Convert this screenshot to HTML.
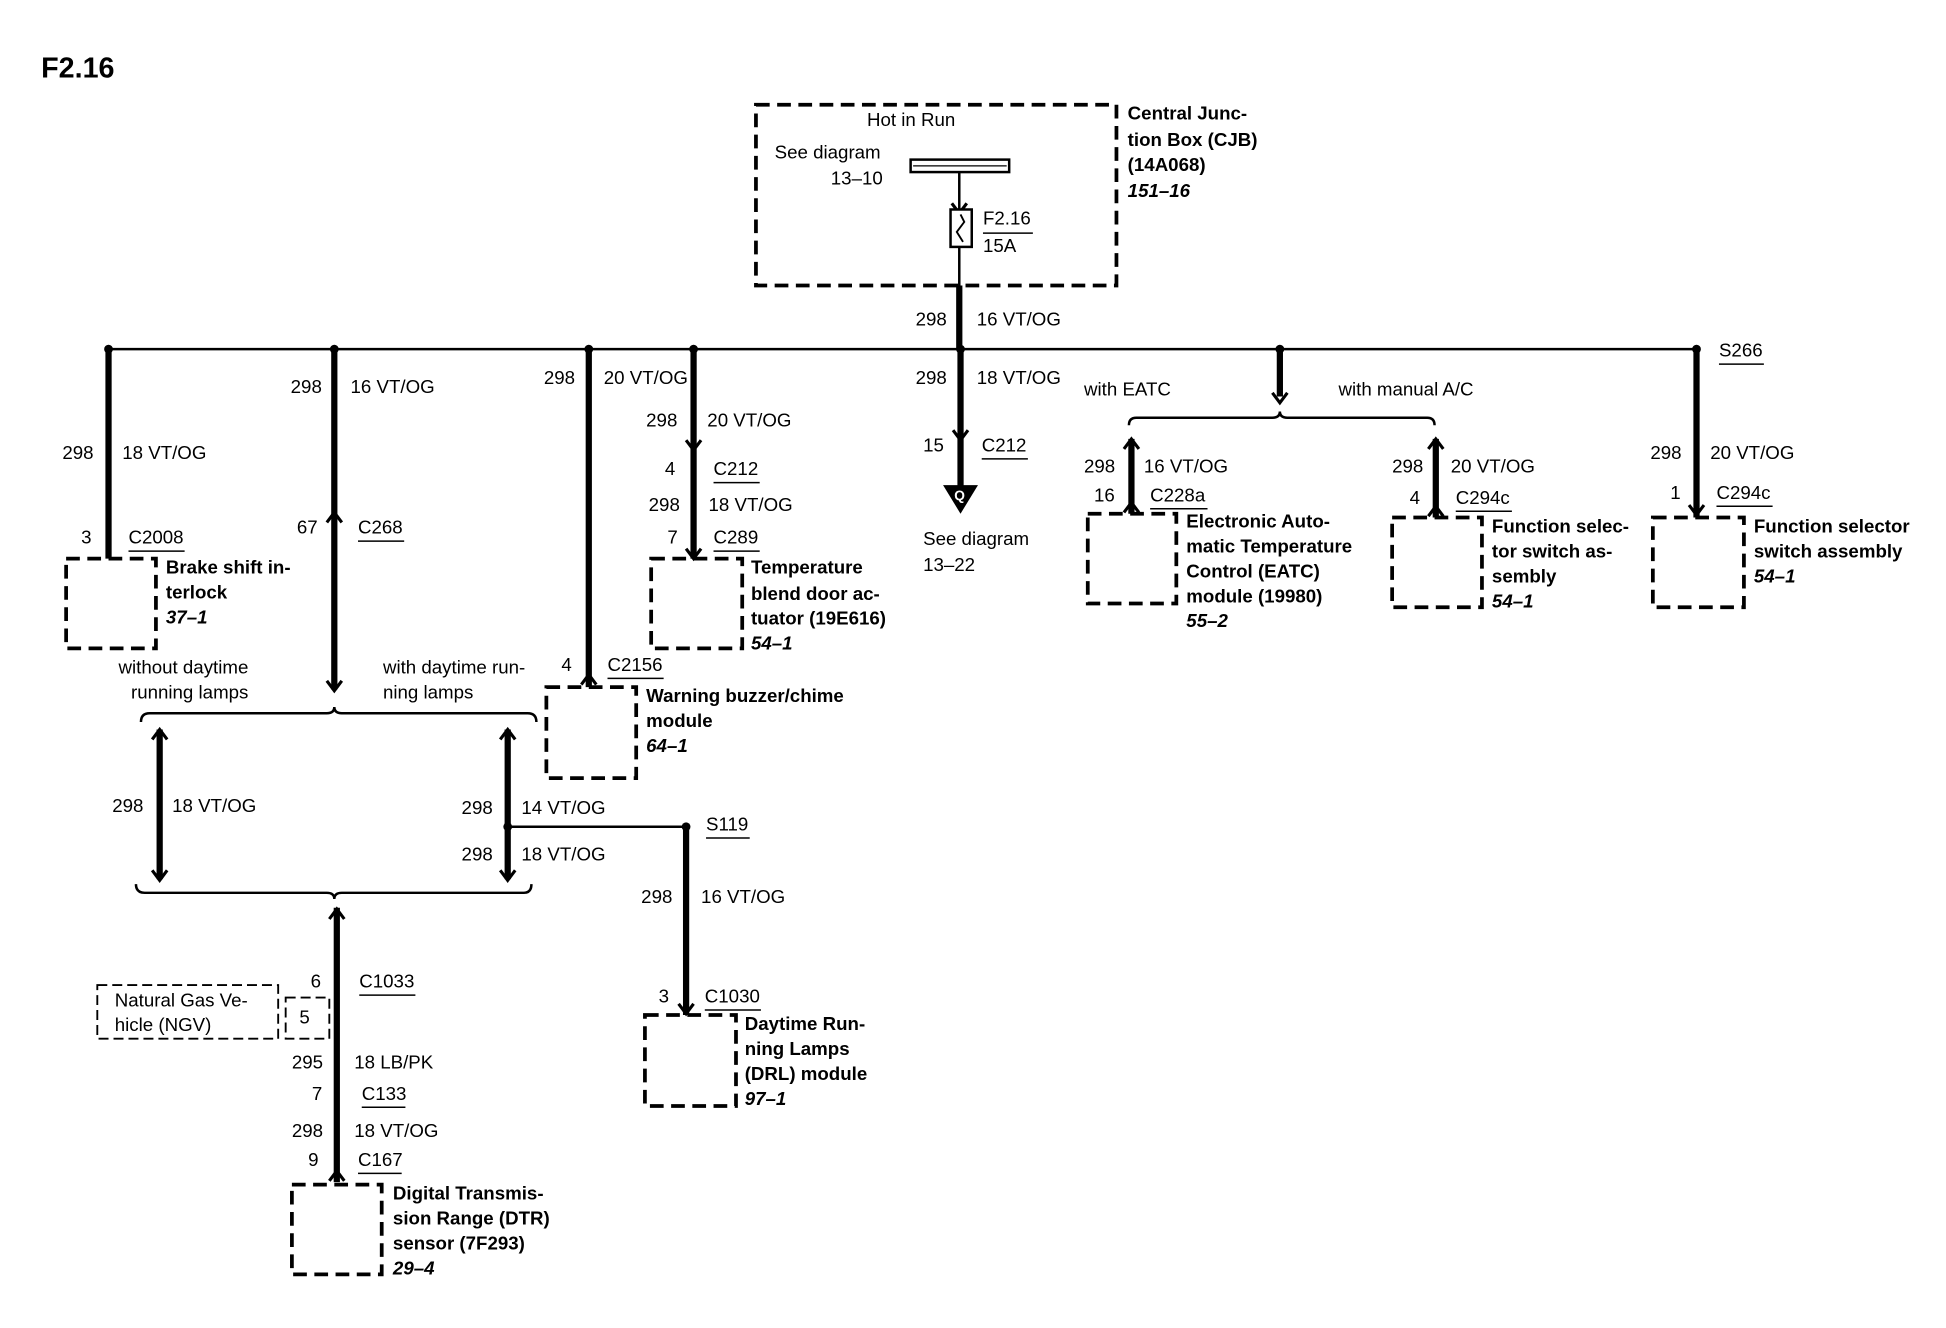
<!DOCTYPE html>
<html><head><meta charset="utf-8"><style>
html,body{margin:0;padding:0;background:#fff;}
svg{display:block}
text{font-family:"Liberation Sans",sans-serif;font-size:15px;fill:#000}
.b{font-weight:bold}
.i{font-weight:bold;font-style:italic}
.w{stroke:#000;stroke-width:5;fill:none}
.t{stroke:#000;stroke-width:2;fill:none}
.d{stroke:#000;stroke-width:3;fill:none;stroke-dasharray:11,6}
.dt{stroke:#000;stroke-width:1.5;fill:none;stroke-dasharray:8,4}
.u{stroke:#000;stroke-width:1.2}
</style></head><body>
<svg width="1946" height="1328" viewBox="0 0 1560 1065" preserveAspectRatio="none" xmlns="http://www.w3.org/2000/svg">
<defs>
<path id="dn" d="M-6,-7 L0,1 L6,-7" stroke="#000" stroke-width="2.5" fill="none"/>
<path id="up" d="M-6,7 L0,-1 L6,7" stroke="#000" stroke-width="2.5" fill="none"/>
</defs>
<text x="33" y="62" class="b" style="font-size:23px">F2.16</text>

<!-- CJB -->
<rect x="606" y="84" width="289" height="145" class="d"/>
<text x="695" y="101">Hot in Run</text>
<text x="621" y="127">See diagram</text>
<text x="666" y="148">13–10</text>
<rect x="730" y="128" width="79" height="10" fill="#fff" stroke="#000" stroke-width="2"/>
<line x1="732" y1="133" x2="807" y2="133" stroke="#000" stroke-width="1"/>
<line x1="769" y1="138" x2="769" y2="168" class="t"/>
<use href="#dn" x="769" y="170"/>
<rect x="762" y="168" width="17" height="30" fill="#fff" stroke="#000" stroke-width="2"/>
<path d="M770,172 L773,178 L767,186 L772,194" stroke="#000" stroke-width="1.5" fill="none"/>
<text x="788" y="180">F2.16</text><line x1="788" y1="187" x2="828" y2="187" class="u"/>
<text x="788" y="202">15A</text>
<line x1="769" y1="198" x2="769" y2="229" class="t"/>
<line x1="769" y1="229" x2="769" y2="280" class="w"/>
<text x="734" y="261">298</text><text x="783" y="261">16 VT/OG</text>
<text x="904" y="96" class="b">Central Junc-</text>
<text x="904" y="117" class="b">tion Box (CJB)</text>
<text x="904" y="137" class="b">(14A068)</text>
<text x="904" y="158" class="i">151–16</text>

<!-- bus -->
<line x1="87" y1="280" x2="1360" y2="280" class="t"/>
<g fill="#000"><circle cx="87" cy="280" r="3.5"/><circle cx="268" cy="280" r="3.5"/><circle cx="472" cy="280" r="3.5"/><circle cx="556" cy="280" r="3.5"/><circle cx="770" cy="280" r="3.5"/><circle cx="1026" cy="280" r="3.5"/><circle cx="1360" cy="280" r="3.5"/></g>
<text x="1378" y="286">S266</text><line x1="1378" y1="292" x2="1414" y2="292" class="u"/>

<!-- branch 1 -->
<line x1="87" y1="280" x2="87" y2="448" class="w"/>
<text x="50" y="368">298</text><text x="98" y="368">18 VT/OG</text>
<text x="65" y="436">3</text><text x="103" y="436">C2008</text><line x1="103" y1="442" x2="148" y2="442" class="u"/>
<rect x="53" y="448" width="72" height="72" class="d"/>
<text x="133" y="460" class="b">Brake shift in-</text>
<text x="133" y="480" class="b">terlock</text>
<text x="133" y="500" class="i">37–1</text>

<!-- branch 2 -->
<line x1="268" y1="280" x2="268" y2="553" class="w"/>
<use href="#up" x="268" y="412"/><use href="#dn" x="268" y="553"/>
<text x="233" y="315">298</text><text x="281" y="315">16 VT/OG</text>
<text x="238" y="428">67</text><text x="287" y="428">C268</text><line x1="287" y1="434" x2="324" y2="434" class="u"/>
<text x="95" y="540">without daytime</text><text x="105" y="560">running lamps</text>
<text x="307" y="540">with daytime run-</text><text x="307" y="560">ning lamps</text>
<path d="M113,579 Q113,572 120,572 L262,572 Q268,572 268,567 Q268,572 274,572 L423,572 Q430,572 430,579" class="t" stroke-width="3"/>
<line x1="128" y1="585" x2="128" y2="705" class="w"/><use href="#up" x="128" y="586"/><use href="#dn" x="128" y="705"/>
<text x="90" y="651">298</text><text x="138" y="651">18 VT/OG</text>
<line x1="407" y1="585" x2="407" y2="705" class="w"/><use href="#up" x="407" y="586"/><use href="#dn" x="407" y="705"/>
<text x="370" y="653">298</text><text x="418" y="653">14 VT/OG</text>
<text x="370" y="690">298</text><text x="418" y="690">18 VT/OG</text>
<line x1="407" y1="663" x2="550" y2="663" class="t"/>
<circle cx="407" cy="663" r="3.5"/><circle cx="550" cy="663" r="3.5"/>
<text x="566" y="666">S119</text><line x1="566" y1="672" x2="601" y2="672" class="u"/>
<path d="M109,709 Q109,716 116,716 L262,716 Q268,716 268,721 Q268,716 274,716 L420,716 Q426,716 426,709" class="t" stroke-width="3"/>
<line x1="270" y1="728" x2="270" y2="948" class="w"/><use href="#up" x="270" y="730"/><use href="#up" x="270" y="940"/>
<text x="249" y="792">6</text><text x="288" y="792">C1033</text><line x1="288" y1="798" x2="333" y2="798" class="u"/>
<rect x="78" y="790" width="145" height="43" class="dt"/>
<text x="92" y="807">Natural Gas Ve-</text><text x="92" y="827">hicle (NGV)</text>
<rect x="229" y="800" width="35" height="33" class="dt"/><text x="240" y="821">5</text>
<text x="234" y="857">295</text><text x="284" y="857">18 LB/PK</text>
<text x="250" y="882">7</text><text x="290" y="882">C133</text><line x1="290" y1="888" x2="325" y2="888" class="u"/>
<text x="234" y="912">298</text><text x="284" y="912">18 VT/OG</text>
<text x="247" y="935">9</text><text x="287" y="935">C167</text><line x1="287" y1="941" x2="322" y2="941" class="u"/>
<rect x="234" y="950" width="72" height="72" class="d"/>
<text x="315" y="962" class="b">Digital Transmis-</text>
<text x="315" y="982" class="b">sion Range (DTR)</text>
<text x="315" y="1002" class="b">sensor (7F293)</text>
<text x="315" y="1022" class="i">29–4</text>
<line x1="550" y1="663" x2="550" y2="814" class="w"/><use href="#dn" x="550" y="812"/>
<text x="514" y="724">298</text><text x="562" y="724">16 VT/OG</text>
<text x="528" y="804">3</text><text x="565" y="804">C1030</text><line x1="565" y1="810" x2="610" y2="810" class="u"/>
<rect x="517" y="814" width="73" height="73" class="d"/>
<text x="597" y="826" class="b">Daytime Run-</text><text x="597" y="846" class="b">ning Lamps</text>
<text x="597" y="866" class="b">(DRL) module</text><text x="597" y="886" class="i">97–1</text>

<!-- branch 3 -->
<line x1="472" y1="280" x2="472" y2="551" class="w"/><use href="#up" x="472" y="542"/>
<text x="436" y="308">298</text><text x="484" y="308">20 VT/OG</text>
<text x="450" y="538">4</text><text x="487" y="538">C2156</text><line x1="487" y1="544" x2="532" y2="544" class="u"/>
<rect x="438" y="551" width="72" height="73" class="d"/>
<text x="518" y="563" class="b">Warning buzzer/chime</text><text x="518" y="583" class="b">module</text><text x="518" y="603" class="i">64–1</text>

<!-- branch 4 -->
<line x1="556" y1="280" x2="556" y2="448" class="w"/><use href="#dn" x="556" y="360"/><use href="#dn" x="556" y="447"/>
<text x="518" y="342">298</text><text x="567" y="342">20 VT/OG</text>
<text x="533" y="381">4</text><text x="572" y="381">C212</text><line x1="572" y1="387" x2="609" y2="387" class="u"/>
<text x="520" y="410">298</text><text x="568" y="410">18 VT/OG</text>
<text x="535" y="436">7</text><text x="572" y="436">C289</text><line x1="572" y1="442" x2="609" y2="442" class="u"/>
<rect x="522" y="448" width="73" height="72" class="d"/>
<text x="602" y="460" class="b">Temperature</text><text x="602" y="481" class="b">blend door ac-</text>
<text x="602" y="501" class="b">tuator (19E616)</text><text x="602" y="521" class="i">54–1</text>

<!-- branch 5 -->
<line x1="770" y1="280" x2="770" y2="390" class="w"/><use href="#dn" x="770" y="352"/>
<text x="734" y="308">298</text><text x="783" y="308">18 VT/OG</text>
<text x="740" y="362">15</text><text x="787" y="362">C212</text><line x1="787" y1="368" x2="824" y2="368" class="u"/>
<path d="M756,389 L784,389 L770,412 Z" fill="#000"/>
<text x="765" y="401" style="font-size:11px;fill:#fff" class="b">Q</text>
<text x="740" y="437">See diagram</text><text x="740" y="458">13–22</text>

<!-- branch 6 -->
<line x1="1026" y1="280" x2="1026" y2="318" class="w"/><use href="#dn" x="1026" y="322"/>
<text x="869" y="317">with EATC</text><text x="1073" y="317">with manual A/C</text>
<path d="M905,341 Q905,335 911,335 L1020,335 Q1026,335 1026,330 Q1026,335 1032,335 L1144,335 Q1150,335 1150,341" class="t" stroke-width="3"/>
<line x1="907" y1="352" x2="907" y2="412" class="w"/><use href="#up" x="907" y="353"/><use href="#up" x="907" y="404"/>
<text x="869" y="379">298</text><text x="917" y="379">16 VT/OG</text>
<text x="877" y="402">16</text><text x="922" y="402">C228a</text><line x1="922" y1="408" x2="968" y2="408" class="u"/>
<rect x="872" y="412" width="71" height="72" class="d"/>
<text x="951" y="423" class="b">Electronic Auto-</text><text x="951" y="443" class="b">matic Temperature</text>
<text x="951" y="463" class="b">Control (EATC)</text><text x="951" y="483" class="b">module (19980)</text>
<text x="951" y="503" class="i">55–2</text>
<line x1="1151" y1="352" x2="1151" y2="415" class="w"/><use href="#up" x="1151" y="353"/><use href="#up" x="1151" y="407"/>
<text x="1116" y="379">298</text><text x="1163" y="379">20 VT/OG</text>
<text x="1130" y="404">4</text><text x="1167" y="404">C294c</text><line x1="1167" y1="410" x2="1212" y2="410" class="u"/>
<rect x="1116" y="415" width="72" height="72" class="d"/>
<text x="1196" y="427" class="b">Function selec-</text><text x="1196" y="447" class="b">tor switch as-</text>
<text x="1196" y="467" class="b">sembly</text><text x="1196" y="487" class="i">54–1</text>

<!-- branch 7 -->
<line x1="1360" y1="280" x2="1360" y2="415" class="w"/><use href="#dn" x="1360" y="412"/>
<text x="1323" y="368">298</text><text x="1371" y="368">20 VT/OG</text>
<text x="1339" y="400">1</text><text x="1376" y="400">C294c</text><line x1="1376" y1="406" x2="1421" y2="406" class="u"/>
<rect x="1325" y="415" width="73" height="72" class="d"/>
<text x="1406" y="427" class="b">Function selector</text><text x="1406" y="447" class="b">switch assembly</text>
<text x="1406" y="467" class="i">54–1</text>
</svg>
</body></html>
